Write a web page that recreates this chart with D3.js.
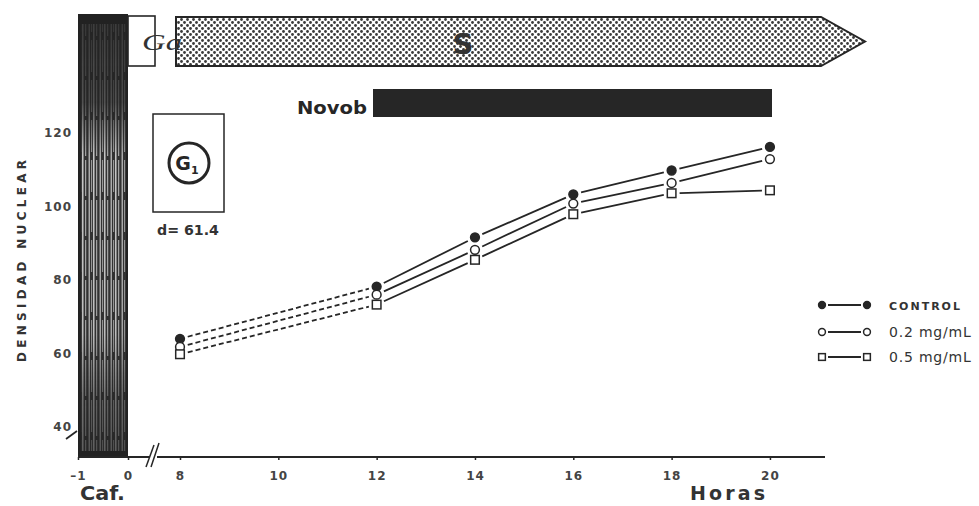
<!DOCTYPE html>
<html>
<head>
<meta charset="utf-8">
<script src="https://cdn.jsdelivr.net/npm/d3@7"></script>
<style>
  html, body { margin: 0; padding: 0; background: #fff; }
  svg { display: block; }
</style>
</head>
<body>
<svg id="chart" width="979" height="506"></svg>
<script>
// Nuclear density over time after caffeine release (G1 -> S), three novobiocin doses
const hours = [8, 12, 14, 16, 18, 20];
const control = [64.0, 78.2, 91.6, 103.3, 109.8, 116.2];
const dose02 = [61.8, 76.0, 88.2, 100.8, 106.4, 112.9];
const dose05 = [59.8, 73.3, 85.5, 97.9, 103.6, 104.4];

const seriesNames = ["CONTROL", "0.2 mg/mL", "0.5 mg/mL"];
const seriesMarks = ["filled", "circle", "square"];

const xTickValues = [-1, 0, 8, 10, 12, 14, 16, 18, 20];
const yTickValues = [40, 60, 80, 100, 120];

const svg = d3.select("#chart");
const ink = "#262626";
const font = "'DejaVu Sans', 'Liberation Sans', sans-serif";

// broken time axis: caffeine period (-1..0) then 8..21 h
const x = d3.scaleLinear().domain([-1, 0, 8, 21.12]).range([78, 128, 180, 825]);
const y = d3.scaleLinear().domain([40, 120]).range([427, 133]);
const baseY = 457;

const defs = svg.append("defs");
// dotted screen for the S-phase arrow
const dots = defs.append("pattern").attr("id", "dots")
  .attr("patternUnits", "userSpaceOnUse").attr("width", 6).attr("height", 6);
dots.append("rect").attr("width", 6).attr("height", 6).attr("fill", "#fff");
dots.append("circle").attr("cx", 1.5).attr("cy", 1.5).attr("r", 1.4).attr("fill", "#3a3a3a");
dots.append("circle").attr("cx", 4.5).attr("cy", 4.5).attr("r", 1.4).attr("fill", "#3a3a3a");
// vertical streaks for the caffeine block
const streaks = defs.append("pattern").attr("id", "streaks")
  .attr("patternUnits", "userSpaceOnUse").attr("width", 11).attr("height", 40);
streaks.append("rect").attr("width", 11).attr("height", 40).attr("fill", "#333");
[[1.2, 1.1, "#d8d8d8", 40], [3.6, 0.9, "#b0b0b0", 32], [5.8, 1.3, "#e0e0e0", 40], [8.7, 1.0, "#c0c0c0", 36]]
  .forEach(([sx, w, c, len]) => {
    streaks.append("line").attr("x1", sx).attr("x2", sx).attr("y1", 0).attr("y2", len)
      .attr("stroke", c).attr("stroke-width", w);
  });
const fade = defs.append("linearGradient").attr("id", "fade")
  .attr("x1", 0).attr("x2", 0).attr("y1", 0).attr("y2", 1);
[[0, 0.15], [0.2, 0.3], [0.32, 1], [0.72, 0.95], [0.86, 0.5], [1, 0.35]].forEach(([o, a]) => {
  fade.append("stop").attr("offset", o).attr("stop-color", "#fff").attr("stop-opacity", a);
});
const fadeMask = defs.append("mask").attr("id", "fadeMask");
fadeMask.append("rect").attr("x", 78).attr("y", 14).attr("width", 50).attr("height", 443).attr("fill", "url(#fade)");

// caffeine block (x -1..0)
const barTop = 14;
svg.append("rect").attr("x", x(-1)).attr("y", barTop).attr("width", x(0) - x(-1)).attr("height", baseY - barTop)
  .attr("fill", "#222");
svg.append("rect").attr("x", x(-1) + 3).attr("y", barTop + 10).attr("width", x(0) - x(-1) - 5).attr("height", baseY - barTop - 16)
  .attr("fill", "url(#streaks)").attr("mask", "url(#fadeMask)");

// G2 box
svg.append("rect").attr("x", 128).attr("y", 16).attr("width", 27).attr("height", 50)
  .attr("fill", "#fff").attr("stroke", ink).attr("stroke-width", 1.6);

// S-phase arrow
const sTop = 17, sBot = 66, sLeft = 176, sRight = 821, sTip = 865;
svg.append("path")
  .attr("d", `M${sLeft},${sTop}H${sRight}L${sTip},${(sTop + sBot) / 2}L${sRight},${sBot}H${sLeft}Z`)
  .attr("fill", "url(#dots)").attr("stroke", ink).attr("stroke-width", 2);
svg.append("text").attr("x", 463).attr("y", 54).attr("text-anchor", "middle")
  .attr("font-family", font).attr("font-weight", "bold").attr("font-size", 29).attr("fill", "#333").text("S");
svg.append("text").attr("x", 142).attr("y", 50)
  .attr("font-family", "'Liberation Serif', serif").attr("font-style", "italic").attr("font-size", 24)
  .attr("fill", "#333").attr("textLength", 40).attr("lengthAdjust", "spacingAndGlyphs").text("Ga");

// Novobiocin exposure bar
svg.append("rect").attr("x", 373).attr("y", 89).attr("width", 399).attr("height", 28).attr("fill", ink);
svg.append("text").attr("x", 297).attr("y", 114)
  .attr("font-family", font).attr("font-weight", "bold").attr("font-size", 18).attr("fill", ink)
  .attr("textLength", 70).attr("lengthAdjust", "spacingAndGlyphs").text("Novob");

// G1 reference box
svg.append("rect").attr("x", 153).attr("y", 114).attr("width", 71).attr("height", 98)
  .attr("fill", "#fff").attr("stroke", ink).attr("stroke-width", 1.5);
svg.append("circle").attr("cx", 189).attr("cy", 163).attr("r", 20)
  .attr("fill", "none").attr("stroke", ink).attr("stroke-width", 3);
const g1 = svg.append("text").attr("x", 187).attr("y", 170).attr("text-anchor", "middle")
  .attr("font-family", font).attr("font-weight", "bold").attr("font-size", 19).attr("fill", ink);
g1.append("tspan").text("G");
g1.append("tspan").attr("font-size", 11).attr("dy", 4).text("1");
svg.append("text").attr("x", 157).attr("y", 235)
  .attr("font-family", font).attr("font-size", 14).attr("font-weight", "bold").attr("fill", "#333")
  .attr("textLength", 62).attr("lengthAdjust", "spacingAndGlyphs").text("d= 61.4");

// x axis baseline with break marks
svg.append("line").attr("x1", x(-1)).attr("x2", 150).attr("y1", baseY).attr("y2", baseY)
  .attr("stroke", ink).attr("stroke-width", 2);
svg.append("line").attr("x1", 157).attr("x2", 825).attr("y1", baseY).attr("y2", baseY)
  .attr("stroke", ink).attr("stroke-width", 2);
svg.append("line").attr("x1", 146).attr("x2", 154).attr("y1", 467).attr("y2", 445)
  .attr("stroke", ink).attr("stroke-width", 1.5);
svg.append("line").attr("x1", 151).attr("x2", 159).attr("y1", 467).attr("y2", 443)
  .attr("stroke", ink).attr("stroke-width", 1.5);
// y axis break mark near 40
svg.append("line").attr("x1", 66).attr("x2", 77).attr("y1", 439).attr("y2", 431)
  .attr("stroke", ink).attr("stroke-width", 1.8);

const xAxis = d3.axisBottom(x).tickValues(xTickValues).tickSize(3).tickPadding(11)
  .tickFormat(d => d3.format("d")(d).replace("−", "–"));
const gx = svg.append("g").attr("transform", `translate(0,${baseY})`).call(xAxis);
gx.select(".domain").remove();
gx.selectAll(".tick line").attr("stroke", ink).attr("stroke-width", 1.5);
gx.selectAll(".tick text").attr("font-family", font).attr("font-size", 12).attr("font-weight", "bold")
  .attr("letter-spacing", 1).attr("fill", "#444");

const yAxis = d3.axisLeft(y).tickValues(yTickValues).tickSize(0).tickPadding(6);
const gy = svg.append("g").attr("transform", `translate(${x(-1)},0)`).call(yAxis);
gy.select(".domain").remove();
gy.selectAll(".tick text").attr("font-family", font).attr("font-size", 12).attr("font-weight", "bold")
  .attr("letter-spacing", 1).attr("fill", "#444");

// axis titles
svg.append("text").attr("transform", "translate(26,261) rotate(-90)").attr("text-anchor", "middle")
  .attr("font-family", font).attr("font-weight", "bold").attr("font-size", 12).attr("fill", "#333")
  .attr("textLength", 202).attr("lengthAdjust", "spacing").text("DENSIDAD NUCLEAR");
svg.append("text").attr("x", 80).attr("y", 500)
  .attr("font-family", font).attr("font-weight", "bold").attr("font-size", 19).attr("fill", "#333")
  .attr("textLength", 45).attr("lengthAdjust", "spacingAndGlyphs").text("Caf.");
svg.append("text").attr("x", 690).attr("y", 500)
  .attr("font-family", font).attr("font-weight", "bold").attr("font-size", 19).attr("fill", "#333")
  .attr("textLength", 75).attr("lengthAdjust", "spacing").text("Horas");

// series: segments stop short of each marker; the pre-novobiocin interval is dashed
const series = [control, dose02, dose05];
const gap = 8;
series.forEach((vals) => {
  for (let i = 0; i < hours.length - 1; i++) {
    const x1 = x(hours[i]), y1 = y(vals[i]);
    const x2 = x(hours[i + 1]), y2 = y(vals[i + 1]);
    const len = Math.hypot(x2 - x1, y2 - y1);
    const ux = (x2 - x1) / len, uy = (y2 - y1) / len;
    svg.append("line")
      .attr("x1", x1 + ux * gap).attr("y1", y1 + uy * gap)
      .attr("x2", x2 - ux * gap).attr("y2", y2 - uy * gap)
      .attr("stroke", ink).attr("stroke-width", 1.8)
      .attr("stroke-dasharray", hours[i] < 12 ? "5,3" : null);
  }
});

function drawMark(g, kind, cx, cy, s) {
  if (kind === "square") {
    g.append("rect").attr("x", cx - 4.3 * s).attr("y", cy - 4.3 * s).attr("width", 8.6 * s).attr("height", 8.6 * s)
      .attr("fill", "#fff").attr("stroke", ink).attr("stroke-width", 1.5);
  } else {
    g.append("circle").attr("cx", cx).attr("cy", cy).attr("r", 4.4 * s)
      .attr("fill", kind === "filled" ? ink : "#fff").attr("stroke", ink).attr("stroke-width", 1.5);
  }
}

const marks = svg.append("g");
series.forEach((vals, si) => {
  vals.forEach((v, i) => drawMark(marks, seriesMarks[si], x(hours[i]), y(v), 1));
});

// legend
const legend = svg.append("g");
const legendY = [305, 332, 357];
seriesNames.forEach((name, i) => {
  const ly = legendY[i];
  drawMark(legend, seriesMarks[i], 822, ly, 0.78);
  legend.append("line").attr("x1", 828).attr("x2", 861).attr("y1", ly).attr("y2", ly)
    .attr("stroke", ink).attr("stroke-width", 2);
  drawMark(legend, seriesMarks[i], 867, ly, 0.78);
  legend.append("text").attr("x", 889).attr("y", ly + 5)
    .attr("font-family", font).attr("font-size", i === 0 ? 11 : 14)
    .attr("font-weight", i === 0 ? "bold" : "normal")
    .attr("letter-spacing", i === 0 ? 2 : 0.8)
    .attr("fill", "#333").text(name);
});
</script>
</body>
</html>
